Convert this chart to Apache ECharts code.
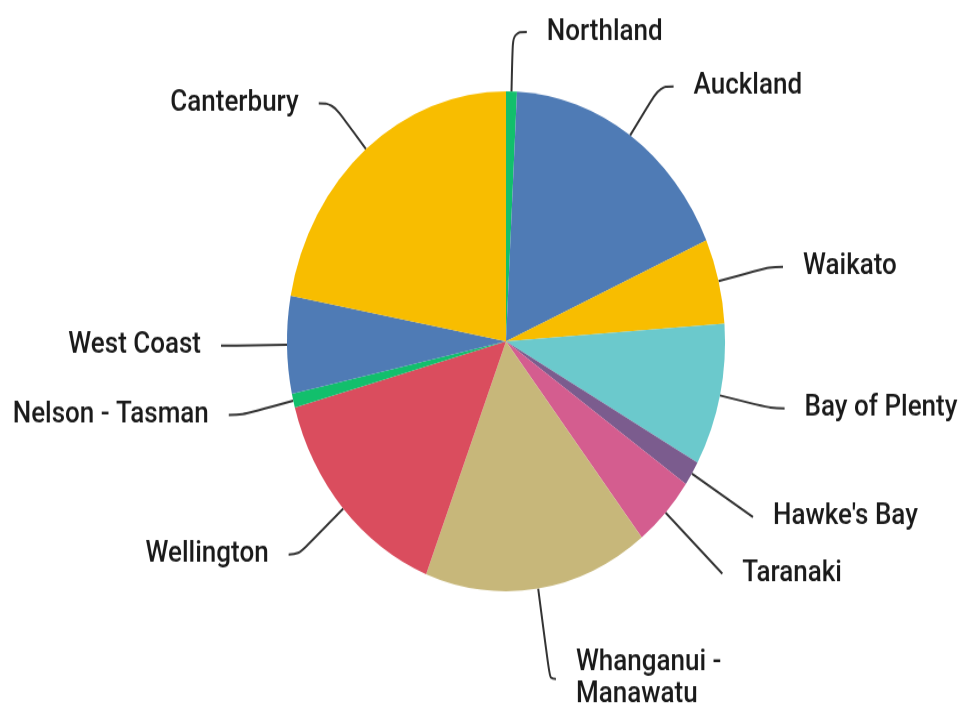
<!DOCTYPE html>
<html>
<head>
<meta charset="utf-8">
<script src="https://cdn.jsdelivr.net/npm/echarts@6/dist/echarts.min.js"></script>
<style>
  html, body { margin: 0; padding: 0; background: #fff; overflow: hidden; }
  #wrap { width: 967px; height: 704px; overflow: hidden; }
  /* the reference pie is an ellipse, so the whole chart is stretched vertically */
  #chart { width: 967px; height: 617px; transform: scaleY(1.1416); transform-origin: 0 0; }
</style>
</head>
<body>
<div id="wrap"><div id="chart"></div></div>
<script>
// regions, clockwise from 12 o'clock
const regions = ['Northland', 'Auckland', 'Waikato', 'Bay of Plenty', "Hawke's Bay", 'Taranaki',
  'Whanganui -\nManawatu', 'Wellington', 'Nelson - Tasman', 'West Coast', 'Canterbury'];
// share of total (%)
const shares = [0.8, 17.6, 5.5, 9.2, 1.6, 4.7, 16.6, 14.8, 0.9, 6.3, 22.1];
const colours = ['#12bf6c', '#4f7bb5', '#f8bd00', '#6bc9cc', '#7b5c8e', '#d45d8f',
  '#c7b77a', '#da4d5e', '#12bf6c', '#4f7bb5', '#f8bd00'];

// a few leader lines differ in the original: [length, length2]
const lineTweaks = {
  "Hawke's Bay": [72, 0],
  'Taranaki': [78, 0],
  'Whanganui -\nManawatu': [80, 6],
  'Wellington': [60, 10]
};

const myChart = echarts.init(document.getElementById('chart'));
const option = {
  animation: false,
  series: [
    {
      type: 'pie',
      center: [506, 299],
      radius: 219,
      startAngle: 90,
      clockwise: true,
      avoidLabelOverlap: false,
      data: regions.map((name, i) => {
        const item = { name: name, value: shares[i], itemStyle: { color: colours[i] } };
        const t = lineTweaks[name];
        if (t) item.labelLine = { length: t[0], length2: t[1] };
        return item;
      }),
      itemStyle: { borderWidth: 0 },
      label: {
        show: true,
        position: 'outside',
        color: '#1a1a1a',
        fontFamily: 'Roboto',
        fontWeight: 500,
        fontSize: 26,
        lineHeight: 28,
        distanceToLabelLine: 20,
        formatter: '{b}'
      },
      labelLine: {
        show: true,
        length: 52,
        length2: 14,
        smooth: 0.4,
        lineStyle: { color: '#333', width: 2 }
      },
      emphasis: { disabled: true }
    }
  ]
};
myChart.setOption(option);
</script>
</body>
</html>
